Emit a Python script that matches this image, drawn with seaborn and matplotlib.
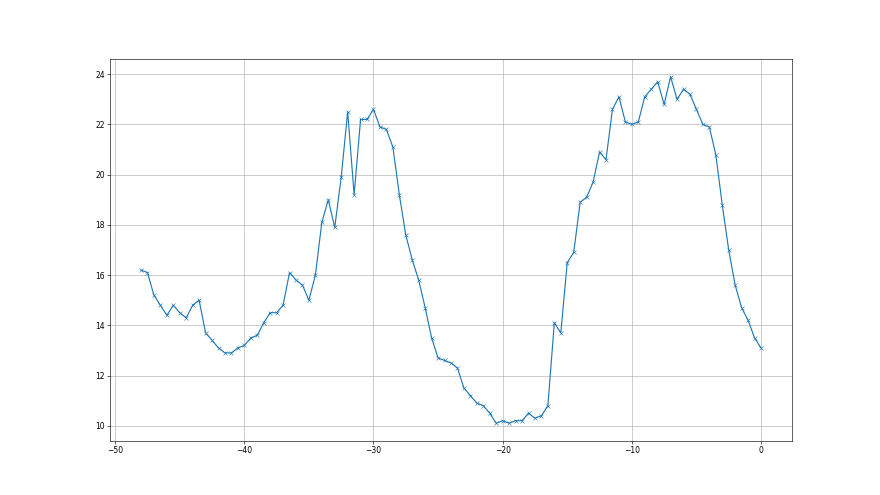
import numpy as np
import pandas as pd
import matplotlib
matplotlib.use("Agg")
import matplotlib.pyplot as plt
import seaborn as sns

x_values = [-48 + 0.5 * i for i in range(97)]
y_values = [
    16.2, 16.1, 15.2, 14.8, 14.4, 14.8, 14.5, 14.3, 14.8, 15.0, 13.7, 13.4,
    13.1, 12.9, 12.9, 13.1, 13.2, 13.5, 13.6, 14.1, 14.5, 14.5, 14.8, 16.1,
    15.8, 15.6, 15.0, 16.0, 18.1, 19.0, 17.9, 19.9, 22.5, 19.2, 22.2, 22.2,
    22.6, 21.9, 21.8, 21.1, 19.2, 17.6, 16.6, 15.8, 14.7, 13.5, 12.7, 12.6,
    12.5, 12.3,
    11.5, 11.2, 10.9, 10.8, 10.5, 10.1, 10.2, 10.1, 10.2, 10.2, 10.5, 10.3,
    10.4, 10.8, 14.1, 13.7, 16.5, 16.9, 18.9, 19.1, 19.7, 20.9, 20.6, 22.6,
    23.1, 22.1,
    22.0, 22.1, 23.1, 23.4, 23.7, 22.8, 23.9, 23.0, 23.4, 23.2, 22.6, 22.0,
    21.9, 20.8, 18.8, 17.0, 15.6, 14.7, 14.2, 13.5, 13.1,
]

df = pd.DataFrame({"x": x_values, "y": y_values})

fig, ax = plt.subplots(figsize=(16, 9), dpi=55)
sns.lineplot(data=df, x="x", y="y", ax=ax, color="#1f77b4", marker="x",
             markersize=6, linewidth=1.5, markeredgecolor="#1f77b4")
ax.grid(True, color="#b0b0b0", linewidth=0.8)
ax.set_xlabel("")
ax.set_ylabel("")
fig.savefig("out.png", dpi=55)
